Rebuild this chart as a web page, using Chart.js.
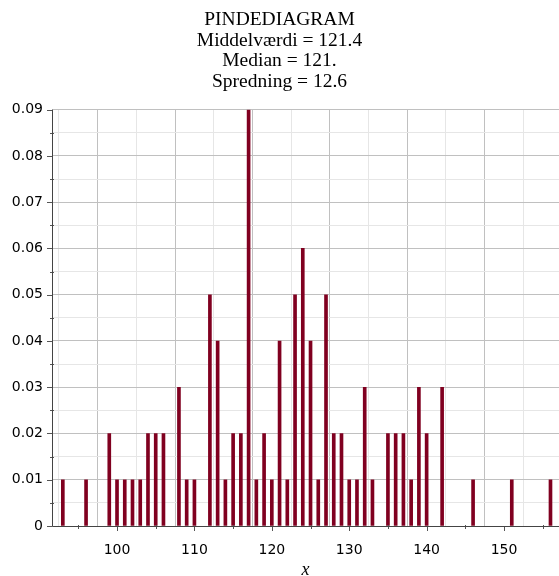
<!DOCTYPE html>
<html>
<head>
<meta charset="utf-8">
<script src="https://cdn.jsdelivr.net/npm/chart.js@4.4.0/dist/chart.umd.min.js"></script>
<style>
  html, body { margin: 0; padding: 0; background: #ffffff; overflow: hidden; }
  canvas { display: block; }
</style>
</head>
<body>
<canvas id="c" width="559" height="576"></canvas>
<script>
// Observed values and their relative frequencies
const xValues = [93, 96, 99, 100, 101, 102, 103, 104, 105, 106, 108, 109, 110,
  112, 113, 114, 115, 116, 117, 118, 119, 120, 121, 122, 123, 124, 125, 126, 127,
  128, 129, 130, 131, 132, 133, 135, 136, 137, 138, 139, 140, 142, 146, 151, 156];
const frequencies = [0.01, 0.01, 0.02, 0.01, 0.01, 0.01, 0.01, 0.02, 0.02, 0.02, 0.03, 0.01, 0.01,
  0.05, 0.04, 0.01, 0.02, 0.02, 0.09, 0.01, 0.02, 0.01, 0.04, 0.01, 0.05, 0.06, 0.04, 0.01, 0.05,
  0.02, 0.02, 0.01, 0.01, 0.03, 0.01, 0.02, 0.02, 0.02, 0.01, 0.03, 0.02, 0.03, 0.01, 0.01, 0.01];

const titleLines = ['PINDEDIAGRAM', 'Middelværdi = 121.4', 'Median = 121.', 'Spredning = 12.6'];
const xTicks = [95, 100, 105, 110, 115, 120, 125, 130, 135, 140, 145, 150, 155];
const yTicks = [0, 0.005, 0.01, 0.015, 0.02, 0.025, 0.03, 0.035, 0.04, 0.045, 0.05, 0.055, 0.06, 0.065, 0.07, 0.075, 0.08, 0.085, 0.09];

const isMajorX = v => Math.abs(v % 10) < 1e-9;
const isMajorY = v => Math.round(v * 1000) % 10 === 0;
const tickVal = c => (c && c.tick) ? c.tick.value : 0;

// Small tick marks drawn along both axes (major outside, minor across the axis)
const axisTicks = {
  id: 'axisTicks',
  afterDatasetsDraw(chart) {
    const { ctx, chartArea: a, scales: { x, y } } = chart;
    ctx.save();
    ctx.strokeStyle = '#555555';
    ctx.lineWidth = 1;
    ctx.beginPath();
    yTicks.forEach(v => {
      const py = Math.round(y.getPixelForValue(v)) + 0.5;
      if (isMajorY(v)) { ctx.moveTo(a.left - 5, py); ctx.lineTo(a.left, py); }
      else { ctx.moveTo(a.left - 2, py); ctx.lineTo(a.left + 2, py); }
    });
    xTicks.forEach(v => {
      const px = Math.round(x.getPixelForValue(v)) + 0.5;
      if (isMajorX(v)) { ctx.moveTo(px, a.bottom); ctx.lineTo(px, a.bottom + 5); }
      else { ctx.moveTo(px, a.bottom - 1); ctx.lineTo(px, a.bottom + 3); }
    });
    ctx.stroke();
    // axis lines
    ctx.strokeStyle = '#444444';
    ctx.beginPath();
    ctx.moveTo(a.left + 0.5, a.top);
    ctx.lineTo(a.left + 0.5, a.bottom + 0.5);
    ctx.lineTo(a.right, a.bottom + 0.5);
    ctx.stroke();
    ctx.restore();
  }
};

new Chart(document.getElementById('c'), {
  type: 'bar',
  data: {
    datasets: [{
      data: xValues.map((v, i) => ({ x: v, y: frequencies[i] })),
      backgroundColor: 'rgb(128, 0, 32)',
      borderWidth: 0,
      barThickness: 3
    }]
  },
  plugins: [axisTicks],
  options: {
    responsive: false,
    animation: false,
    devicePixelRatio: 1,
    layout: { padding: { left: 0, right: 0, top: 0, bottom: 0 } },
    plugins: {
      legend: { display: false },
      tooltip: { enabled: false },
      title: {
        display: true,
        text: titleLines,
        color: '#000000',
        font: { family: '"Liberation Serif", "Times New Roman", serif', size: 19.5, weight: 'normal', lineHeight: 1.06 },
        padding: { top: 9.5, bottom: 17.5 }
      }
    },
    scales: {
      x: {
        type: 'linear',
        min: 91.6,
        max: 157.1,
        offset: false,
        afterBuildTicks: s => { s.ticks = xTicks.map(v => ({ value: v })); },
        afterFit: s => { s.height = 50; },
        border: { display: false },
        grid: {
          drawTicks: false,
          color: c => isMajorX(tickVal(c)) ? '#c0c0c0' : '#e6e6e6',
          lineWidth: 1
        },
        ticks: {
          autoSkip: false,
          maxRotation: 0,
          padding: 16,
          color: '#000000',
          font: { family: '"DejaVu Sans", sans-serif', size: 14 },
          callback: v => isMajorX(v) ? String(v) : ''
        },
        title: {
          display: true,
          text: 'x',
          color: '#000000',
          font: { family: '"Liberation Serif", serif', size: 18, style: 'italic' },
          padding: { top: 0, bottom: -5 }
        }
      },
      y: {
        type: 'linear',
        min: 0,
        max: 0.09,
        afterBuildTicks: s => { s.ticks = yTicks.map(v => ({ value: v })); },
        afterFit: s => { s.width = 52; },
        border: { display: false },
        grid: {
          drawTicks: false,
          color: c => isMajorY(tickVal(c)) ? '#c0c0c0' : '#e6e6e6',
          lineWidth: 1
        },
        ticks: {
          autoSkip: false,
          padding: 9,
          color: '#000000',
          font: { family: '"DejaVu Sans", sans-serif', size: 14 },
          callback: v => isMajorY(v) ? (v === 0 ? '0' : v.toFixed(2)) : ''
        }
      }
    }
  }
});
</script>
</body>
</html>
